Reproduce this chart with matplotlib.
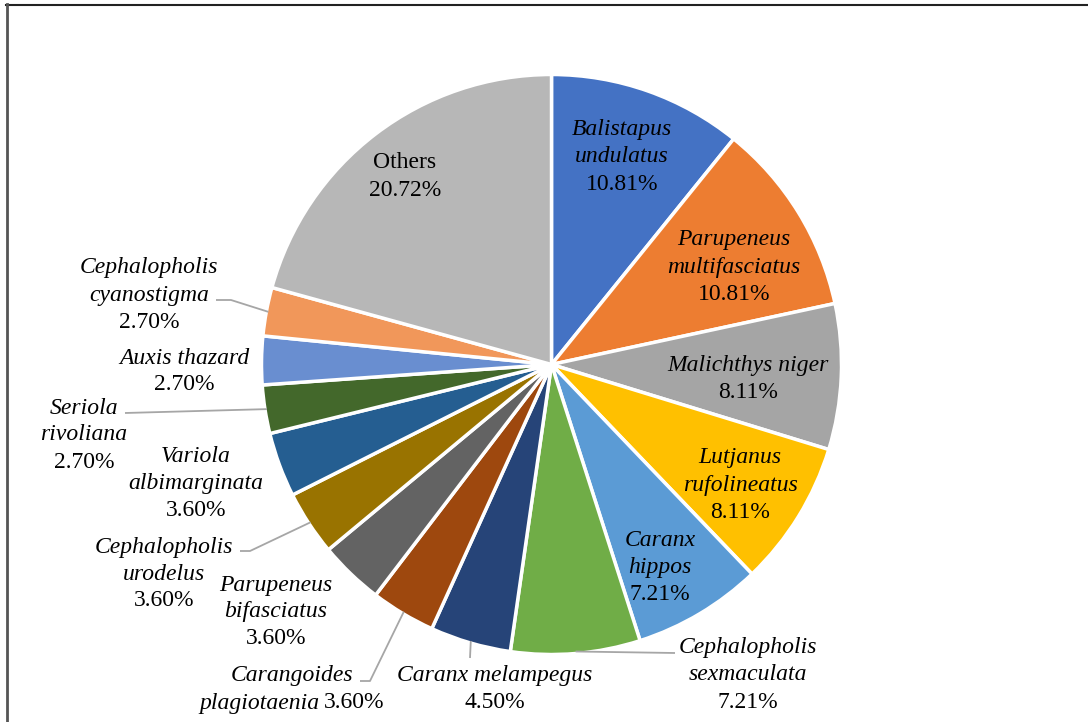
import numpy as np
import matplotlib
matplotlib.use("Agg")
import matplotlib.pyplot as plt
from matplotlib.lines import Line2D

# ----------------------------
# data
# ----------------------------
species = [
    "Balistapus\nundulatus",
    "Parupeneus\nmultifasciatus",
    "Malichthys niger",
    "Lutjanus\nrufolineatus",
    "Caranx\nhippos",
    "Cephalopholis\nsexmaculata",
    "Caranx melampegus",
    "Carangoides\nplagiotaenia",
    "Parupeneus\nbifasciatus",
    "Cephalopholis\nurodelus",
    "Variola\nalbimarginata",
    "Seriola\nrivoliana",
    "Auxis thazard",
    "Cephalopholis\ncyanostigma",
    "Others",
]
shares = [10.81, 10.81, 8.11, 8.11, 7.21, 7.21, 4.50, 3.60, 3.60, 3.60, 3.60,
          2.70, 2.70, 2.70, 20.72]
colors = ["#4472C4", "#ED7D31", "#A5A5A5", "#FFC000", "#5B9BD5", "#70AD47",
          "#264478", "#9E480E", "#636363", "#997300", "#255E91", "#43682B",
          "#698ED0", "#F1975A", "#B7B7B7"]

# ----------------------------
# layout (pixel coords, y from top)
# ----------------------------
W, H = 1088, 722
CX, CY, R = 551.5, 364.5, 290
LINE = 27
FS = 17
FONT = "Liberation Serif"

# first line centre of each label
label_xy = [(622, 130), (734, 240), (748, 366), (740, 458), (660, 540),
            (748, 648), (495, 676), (292, 676), (276, 585), (164, 547),
            (196, 457), (84, 408), (184, 358), (149, 268), (405, 163)]
# elbow points of leader lines
leaders = {5: [(675, 653)], 6: [(470, 658)], 7: [(360, 681), (370, 681)],
           9: [(240, 551), (250, 551)], 11: [(125, 413)],
           13: [(216, 300), (231, 300)]}

fig = plt.figure(figsize=(W / 100, H / 100), dpi=100)
ax = fig.add_axes([0, 0, 1, 1])


def py(y):
    return H - y


wedges, _ = ax.pie(shares, colors=colors, startangle=90, counterclock=False,
                   center=(CX, py(CY)), radius=R,
                   wedgeprops=dict(edgecolor="white", linewidth=2.5))
ax.set_xlim(0, W)
ax.set_ylim(0, H)
ax.set_aspect("equal")
ax.axis("off")

renderer = fig.canvas.get_renderer()

# labels
for i, (name, val) in enumerate(zip(species, shares)):
    x, y = label_xy[i]
    pct = f"{val:.2f}%"
    style = "normal" if name == "Others" else "italic"
    lines = name.split("\n")
    if i == 7:
        # second line holds the name and the value side by side
        ax.text(x, py(y), lines[0], ha="center", va="center", fontsize=FS,
                family=FONT, style="italic")
        t1 = ax.text(0, py(y + LINE), lines[1], ha="left", va="center",
                     fontsize=FS, family=FONT, style="italic")
        t2 = ax.text(0, py(y + LINE), pct, ha="left", va="center",
                     fontsize=FS, family=FONT)
        w1 = t1.get_window_extent(renderer).width
        w2 = t2.get_window_extent(renderer).width
        gap = 4
        x0 = x - (w1 + gap + w2) / 2
        t1.set_x(x0)
        t2.set_x(x0 + w1 + gap)
        continue
    for k, ln in enumerate(lines):
        ax.text(x, py(y + k * LINE), ln, ha="center", va="center",
                fontsize=FS, family=FONT, style=style)
    ax.text(x, py(y + len(lines) * LINE), pct, ha="center", va="center",
            fontsize=FS, family=FONT)

# leader lines: from elbow(s) to the slice edge at its mid angle
for i, pts in leaders.items():
    w = wedges[i]
    mid = np.deg2rad((w.theta1 + w.theta2) / 2)
    ex = CX + (R - 2) * np.cos(mid)
    ey = py(CY) + (R - 2) * np.sin(mid)
    xs = [p[0] for p in pts] + [ex]
    ys = [py(p[1]) for p in pts] + [ey]
    ax.plot(xs, ys, color="#A6A6A6", lw=1.3, solid_capstyle="butt")

# frame (top and left only, as in the cropped source)
fig.add_artist(Line2D([6 / W, 1], [1 - 4.5 / H, 1 - 4.5 / H],
                      color="#222222", lw=1.5, transform=fig.transFigure))
fig.add_artist(Line2D([7 / W, 7 / W], [0, 1 - 4 / H],
                      color="#555555", lw=2, transform=fig.transFigure))

fig.savefig("out.png", dpi=100)
